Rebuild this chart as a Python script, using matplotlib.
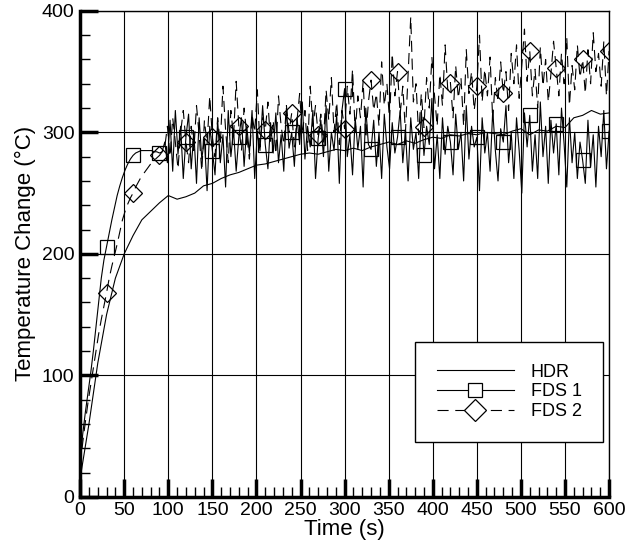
import matplotlib.pyplot as plt
import numpy as np
from matplotlib.lines import Line2D

plt.rcParams['font.family'] = ['Liberation Sans', 'DejaVu Sans']

# HDR measurement, every 10 s
hdr_time = np.arange(0, 601, 10)
hdr_temp = [15, 60, 110, 150, 180, 200, 215, 228, 235, 242,
            248, 245, 247, 250, 256, 258, 262, 265, 267, 270,
            273, 274, 276, 278, 280, 282, 283, 282, 284, 286,
            285, 287, 285, 288, 290, 292, 290, 293, 291, 294,
            296, 295, 298, 297, 299, 298, 300, 299, 298, 301,
            303, 298, 302, 301, 305, 304, 312, 314, 318, 315,
            316]

# FDS runs, every 3 s
fds_time = np.arange(0, 601, 3)
fds1_temp = [30, 52, 70, 86, 102, 120, 140, 160, 180, 195,
             206, 217, 228, 238, 248, 256, 263, 269, 274, 278,
             281, 283, 284, 285, 285, 285, 285, 285, 284, 284,
             283, 284,
             292, 275, 310, 268, 318, 282, 305, 262, 296, 315,
             270, 300, 258, 312, 278, 295, 252, 305, 285, 265,
             310, 275, 298, 255, 318, 280, 302, 268, 296, 312,
             272, 305, 283, 318, 262, 300, 285, 322, 290, 270,
             308, 283, 316, 275, 298, 268, 320, 287, 300, 272,
             312, 290, 325, 278, 305, 288, 318, 262, 295, 310,
             280, 322, 268, 300, 285, 315, 258, 318, 336, 280,
             298, 265, 312, 286, 305, 255, 320, 290, 286, 310,
             272, 300, 262, 315, 288, 270, 308, 283, 296, 318,
             275, 302, 260, 312, 286, 300, 262, 318, 281, 305,
             290, 328, 270, 298, 262, 312, 282, 305, 292, 265,
             315, 286, 300, 260, 322, 278, 305, 288, 296, 252,
             312, 283, 300, 268, 318, 285, 260, 303, 292, 322,
             275, 300, 262, 312, 285, 250, 316, 288, 314, 268,
             298, 262, 325, 280, 305, 258, 310, 283, 307, 265,
             320, 290, 255, 312, 275, 300, 262, 292, 277, 258,
             310, 272, 298, 255, 305, 280, 318, 270, 301]
fds2_temp = [25, 45, 62, 78, 92, 106, 120, 134, 146, 157,
             168, 180, 190, 199, 208, 218, 228, 235, 241, 246,
             250, 255, 259, 263, 266, 269, 272, 275, 277, 279,
             281, 284,
             288, 305, 280, 312, 292, 270, 300, 318, 292, 275,
             305, 285, 322, 298, 268, 310, 290, 330, 296, 280,
             312, 290, 338, 302, 275, 318, 296, 342, 305, 285,
             320, 298, 278, 315, 300, 335, 288, 312, 302, 325,
             292, 310, 282, 330, 305, 290, 322, 300, 316, 288,
             310, 332, 298, 318, 285, 338, 305, 322, 298, 315,
             292, 335, 310, 345, 300, 325, 290, 318, 303, 338,
             315, 352, 300, 330, 312, 342, 295, 325, 343, 318,
             332, 305, 358, 322, 340, 310, 365, 330, 350, 315,
             338, 300, 348, 395, 325, 340, 298, 332, 304, 345,
             320, 362, 330, 305, 348, 322, 372, 335, 341, 312,
             355, 328, 345, 305, 368, 332, 350, 318, 338, 380,
             325, 352, 330, 362, 310, 345, 325, 358, 332, 350,
             318, 365, 340, 372, 328, 355, 385, 342, 367, 330,
             352, 320, 370, 338, 360, 325, 348, 375, 353, 330,
             365, 340, 378, 322, 355, 335, 372, 345, 360, 332,
             368, 340, 382, 350, 365, 338, 375, 330, 367]

fig = plt.figure(figsize=(6.26, 5.43), dpi=100)
ax = fig.add_axes([0.128, 0.085, 0.845, 0.895])

ax.plot(hdr_time, hdr_temp, color='black', lw=0.8, zorder=3)
ax.plot(fds_time, fds1_temp, color='black', lw=0.8, marker='s', ms=10,
        mfc='none', mec='black', mew=0.9, markevery=(10, 10), zorder=4)
ax.plot(fds_time, fds2_temp, color='black', lw=0.8, dashes=(10, 6),
        marker='D', ms=9, mfc='none', mec='black', mew=0.9,
        markevery=(10, 10), zorder=4)

ax.set_xlim(0, 600)
ax.set_ylim(0, 400)
ax.set_xticks(np.arange(0, 601, 50))
ax.set_yticks(np.arange(0, 401, 100))
ax.set_xticks(np.arange(0, 601, 10), minor=True)
ax.set_yticks(np.arange(0, 401, 20), minor=True)
ax.tick_params(which='major', direction='in', length=13, width=2.5,
               labelsize=14, top=False, right=False, pad=4)
ax.tick_params(which='minor', direction='in', length=7, width=1,
               top=False, right=False)
ax.grid(True, which='major', color='black', lw=0.8)
ax.set_axisbelow(True)

for side in ['left', 'bottom']:
    ax.spines[side].set_linewidth(2.5)
for side in ['top', 'right']:
    ax.spines[side].set_linewidth(1)

ax.set_xlabel('Time (s)', fontsize=16, labelpad=0)
ax.set_ylabel('Temperature Change (\u00b0C)', fontsize=16, labelpad=4)

handles = [
    Line2D([], [], color='black', lw=0.8),
    Line2D([], [], color='black', lw=0.8, marker='s', ms=10, mfc='white',
           mec='black', mew=0.9),
    Line2D([], [], color='black', lw=0.8, dashes=(10, 6), marker='D', ms=11,
           mfc='white', mec='black', mew=0.9),
]
leg = ax.legend(handles, ['HDR', 'FDS 1', 'FDS 2'], loc='center',
                bbox_to_anchor=(0.639, 0.111, 0.344, 0.21), fontsize=13,
                handlelength=4.3, handletextpad=0.9, labelspacing=0.15,
                fancybox=False, framealpha=1, edgecolor='black',
                numpoints=1, borderpad=1.2)
leg.get_frame().set_linewidth(1)

plt.savefig('out.png', dpi=100)
